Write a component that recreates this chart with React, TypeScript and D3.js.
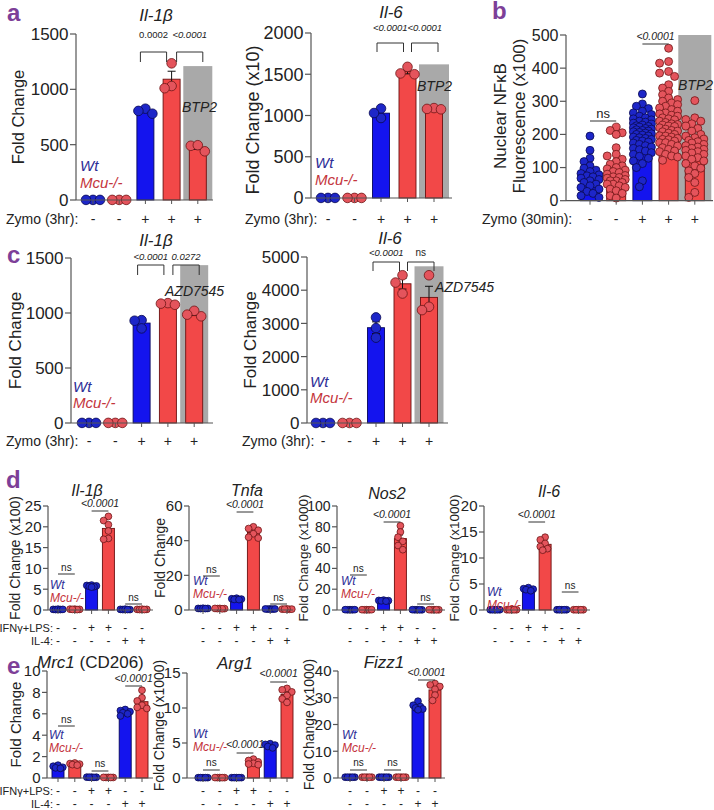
import React from 'react';
import * as d3 from 'd3';

const FONT = "'Liberation Sans', Arial, Helvetica, sans-serif";
const PURPLE = '#7d3f98';
const GRAY = '#a9a9a9';
const AXIS = '#555555';
const INK = '#222222';
const COLORS: Record<string, { bar: string; barStroke: string; dot: string; dotStroke: string; text: string }> = {
  wt: { bar: '#1414ee', barStroke: '#06065a', dot: '#1d26c8', dotStroke: '#0a0a50', text: '#2d2d96' },
  mcu: { bar: '#f24848', barStroke: '#6b1010', dot: '#e4545c', dotStroke: '#6e1616', text: '#c4343c' },
};

// ---------- categories / signs ----------
const zymoSigns = ['-', '-', '+', '+', '+'];
const ifnSigns = ['-', '-', '+', '+', '-', '-'];
const il4Signs = ['-', '-', '-', '-', '+', '+'];
const geno5 = ['wt', 'mcu', 'wt', 'mcu', 'mcu'];
const geno6 = ['wt', 'mcu', 'wt', 'mcu', 'wt', 'mcu'];

// ---------- panel a ----------
const aIl1b = [[1, 1, 1], [1, 1, 1], [825, 805, 780], [1235, 1030, 1010], [440, 490, 495]];
const aIl6 = [[1, 1, 1], [1, 1, 1], [1085, 970, 1030], [1590, 1510, 1500], [1090, 1080, 1075]];

// ---------- panel b ----------
const bWt = [195, 152, 128, 118, 105, 98, 92, 88, 82, 78, 75, 72, 68, 64, 60, 55, 50, 45, 40, 35, 28, 22, 15, 10];
const bMcu = [222, 212, 205, 200, 160, 140, 135, 125, 118, 110, 105, 100, 96, 92, 88, 85, 80, 76, 72, 70, 68, 64, 60, 60, 55, 50, 50, 45, 40, 35, 30, 22, 15, 8];
const bWtZymo = [322, 292, 285, 278, 270, 265, 260, 255, 250, 247, 244, 240, 237, 234, 231, 228, 226, 224, 222, 220, 218, 216, 214, 212, 210, 208, 206, 204, 202, 200, 198, 195, 192, 190, 188, 185, 182, 180, 177, 174, 170, 166, 162, 158, 154, 150, 145, 140, 134, 128, 120, 112, 100, 60, 42];
const bMcuZymo = [460, 420, 415, 390, 385, 375, 350, 340, 330, 320, 310, 305, 300, 295, 290, 285, 280, 275, 270, 265, 262, 258, 255, 250, 247, 244, 240, 236, 232, 230, 228, 225, 224, 220, 216, 212, 210, 208, 204, 200, 196, 195, 192, 188, 185, 184, 180, 175, 175, 170, 165, 160, 155, 150, 148, 140, 135, 132, 122];
const bBtp2 = [302, 250, 245, 240, 232, 225, 218, 210, 200, 195, 190, 186, 182, 178, 174, 170, 166, 162, 158, 155, 152, 148, 144, 140, 135, 130, 125, 120, 112, 105, 98, 90, 82, 70, 55, 25, 10];

// ---------- panel c ----------
const cIl1b = [[1, 1, 1], [1, 1, 1], [935, 930, 860], [1090, 1075, 1085], [970, 1020, 985]];
const cIl6 = [[1, 1, 1], [1, 1, 1], [3180, 2860, 2570], [4450, 4230, 3900], [4450, 3500, 3400]];

// ---------- panel d ----------
const dIl1b = [[0.15, 0.1, 0.2, 0.1, 0.15], [0.2, 0.15, 0.1, 0.2, 0.15], [6.0, 5.9, 5.8, 5.7, 5.6, 5.5], [22.5, 21.5, 20.5, 19, 17.2, 17], [0.1, 0.15, 0.1, 0.2, 0.1], [0.15, 0.1, 0.2, 0.15, 0.1]];
const dTnfa = [[0.9, 0.8, 1.0, 0.9, 0.8], [0.8, 0.9, 0.7, 0.8, 0.9], [6.8, 6.5, 6.3, 6.1, 6.0], [48, 47, 46, 44, 42, 41.5], [0.6, 0.5, 0.6, 0.5, 0.6], [0.5, 0.4, 0.5, 0.6, 0.5]];
const dNos2 = [[0.3, 0.2, 0.3, 0.2, 0.3], [0.3, 0.2, 0.3, 0.2, 0.3], [9.5, 9.2, 9.0, 8.8, 8.5], [81, 75, 70, 66, 62, 58], [0.2, 0.3, 0.2, 0.3, 0.2], [0.2, 0.3, 0.2, 0.3, 0.2]];
const dIl6 = [[0.05, 0.05, 0.05, 0.05, 0.05], [0.05, 0.05, 0.05, 0.05, 0.05], [4.3, 4.1, 4.0, 3.9, 3.7], [14, 13.5, 12.8, 12.2, 11.8, 11.5], [0.05, 0.05, 0.05, 0.05, 0.05], [0.05, 0.05, 0.05, 0.05, 0.05]];

// ---------- panel e ----------
const eMrc1 = [[1.2, 1.1, 1.0, 0.95, 0.9], [1.4, 1.35, 1.3, 1.25, 1.2], [0.08, 0.07, 0.08, 0.06, 0.07], [0.05, 0.06, 0.05, 0.06, 0.05], [6.4, 6.3, 6.2, 6.1, 6.0, 5.8], [8.2, 7.5, 7.2, 6.8, 6.6, 6.5]];
const eArg1 = [[0.05, 0.05, 0.05, 0.05, 0.05], [0.05, 0.06, 0.05, 0.06, 0.05], [0.05, 0.05, 0.05, 0.05, 0.05], [2.7, 2.5, 2.3, 2.1, 2.0, 1.9], [4.9, 4.8, 4.7, 4.5, 4.3], [12.8, 12.6, 12.3, 11.8, 11.3, 10.8]];
const eFizz1 = [[0.3, 0.3, 0.3, 0.3, 0.3], [0.3, 0.3, 0.3, 0.3, 0.3], [0.3, 0.3, 0.3, 0.3, 0.3], [0.3, 0.3, 0.3, 0.3, 0.3], [28.7, 27.2, 26.7, 26.2, 25.8, 25.5], [35.3, 34.8, 34.2, 33.2, 31, 29]];

// ---------- types ----------
type Seg = { t: string; it: boolean };
type Mark = { i: number; j: number; text: string; italic?: boolean; kind: 'bracket' | 'line'; y: number; ty: number; dx?: number; leg?: number; size: number };
type Row = { label?: string; labelX?: number; labelAnchor?: 'start' | 'end'; y: number; signs: string[]; size: number; labelSize?: number };
type PanelCfg = {
  axisX: number; axisEnd: number; y0: number; yTop: number; max: number; ticks: number[]; tickSize: number; tickLen: number;
  firstX: number; step: number; barW: number; r: number; swStep: number; swMax: number; capW: number;
  groups: number[][]; geno: string[];
  gray?: { index: number; value: number; width: number; label: string; lx: number; ly: number; size: number };
  title?: Seg[]; titleX?: number; titleY?: number; titleSize?: number; titleAnchor?: 'start' | 'middle';
  ylabel: string[]; ylabelX: number[]; ylabelY?: number; ylabelSize: number;
  legend?: { x: number; y1: number; y2: number; size: number };
  marks: Mark[]; rows: Row[];
};

function swarm(vals: number[], y: (v: number) => number, r: number, step: number, maxOff: number): number[] {
  const idx = vals.map((_, i) => i).sort((a, b) => vals[b] - vals[a]);
  const placed: [number, number][] = [];
  const out: number[] = new Array(vals.length).fill(0);
  const minD = 2 * r * 0.8;
  const cands = [0];
  for (let k = 1; k * step <= maxOff + 1e-6; k++) cands.push(-k * step, k * step);
  for (const i of idx) {
    const py = y(vals[i]);
    let best = 0;
    let bestD = -1;
    for (const c of cands) {
      let md = Infinity;
      for (const [px, qy] of placed) md = Math.min(md, Math.hypot(px - c, qy - py));
      if (md >= minD) { best = c; bestD = md; break; }
      if (md > bestD) { bestD = md; best = c; }
    }
    placed.push([best, py]);
    out[i] = best;
  }
  return out;
}

function BarPanel({ cfg }: { cfg: PanelCfg }) {
  const y = d3.scaleLinear().domain([0, cfg.max]).range([cfg.y0, cfg.yTop]);
  const x = d3.scaleLinear().domain([0, 1]).range([cfg.firstX, cfg.firstX + cfg.step]);
  const stats = cfg.groups.map((g) => {
    const m = d3.mean(g) as number;
    const sd = g.length > 1 ? (d3.deviation(g) as number) : 0;
    return { m, sem: sd / Math.sqrt(g.length) };
  });
  const ylY = cfg.ylabelY ?? (cfg.y0 + cfg.yTop) / 2;
  return (
    <g>
      {cfg.gray && (
        <rect
          x={x(cfg.gray.index) - cfg.gray.width / 2}
          y={y(cfg.gray.value)}
          width={cfg.gray.width}
          height={cfg.y0 - y(cfg.gray.value)}
          fill={GRAY}
        />
      )}
      {stats.map((s, i) => {
        const c = COLORS[cfg.geno[i]];
        return (
          <rect key={'b' + i} x={x(i) - cfg.barW / 2} y={y(s.m)} width={cfg.barW} height={cfg.y0 - y(s.m)}
            fill={c.bar} stroke={c.barStroke} strokeWidth={0.9} />
        );
      })}
      {stats.map((s, i) => {
        const cx = x(i);
        const hi = y(s.m + s.sem);
        const lo = y(Math.max(0, s.m - s.sem));
        return (
          <g key={'e' + i} stroke="#111" strokeWidth={1}>
            <line x1={cx} x2={cx} y1={hi} y2={lo} />
            <line x1={cx - cfg.capW / 2} x2={cx + cfg.capW / 2} y1={hi} y2={hi} />
            <line x1={cx - cfg.capW / 2} x2={cx + cfg.capW / 2} y1={lo} y2={lo} />
          </g>
        );
      })}
      {cfg.groups.map((g, i) => {
        const c = COLORS[cfg.geno[i]];
        const offs = swarm(g, y, cfg.r, cfg.swStep, cfg.swMax);
        return g.map((v, k) => (
          <circle key={'d' + i + '-' + k} cx={x(i) + offs[k]} cy={y(v)} r={cfg.r} fill={c.dot} stroke={c.dotStroke} strokeWidth={0.8} />
        ));
      })}
      {/* axes */}
      <line x1={cfg.axisX} x2={cfg.axisX} y1={cfg.yTop} y2={cfg.y0} stroke={AXIS} strokeWidth={1.2} />
      <line x1={cfg.axisX} x2={cfg.axisEnd} y1={cfg.y0} y2={cfg.y0} stroke={AXIS} strokeWidth={1.2} />
      {cfg.ticks.map((t) => (
        <g key={'t' + t}>
          <line x1={cfg.axisX - cfg.tickLen} x2={cfg.axisX} y1={y(t)} y2={y(t)} stroke={AXIS} strokeWidth={1.2} />
          <text x={cfg.axisX - cfg.tickLen - 1.5} y={y(t)} dy="0.36em" textAnchor="end" fontSize={cfg.tickSize} fill={INK}>{t}</text>
        </g>
      ))}
      {cfg.groups.map((_, i) => (
        <line key={'xt' + i} x1={x(i)} x2={x(i)} y1={cfg.y0} y2={cfg.y0 + 4} stroke={AXIS} strokeWidth={1} />
      ))}
      {/* y label */}
      {cfg.ylabel.map((l, k) => (
        <text key={'yl' + k} transform={`translate(${cfg.ylabelX[k]},${ylY}) rotate(-90)`} textAnchor="middle" dy="0.36em"
          fontSize={cfg.ylabelSize} fill={INK}>{l}</text>
      ))}
      {/* title */}
      {cfg.title && (
        <text x={cfg.titleX} y={cfg.titleY} textAnchor={cfg.titleAnchor ?? 'middle'} fontSize={cfg.titleSize} fill={INK}>
          {cfg.title.map((s, k) => (
            <tspan key={k} fontStyle={s.it ? 'italic' : 'normal'}>{s.t}</tspan>
          ))}
        </text>
      )}
      {/* gray label */}
      {cfg.gray && (
        <text x={cfg.gray.lx} y={cfg.gray.ly} fontSize={cfg.gray.size} fontStyle="italic" fill={INK}>{cfg.gray.label}</text>
      )}
      {/* legend */}
      {cfg.legend && (
        <g fontStyle="italic" fontSize={cfg.legend.size}>
          <text x={cfg.legend.x} y={cfg.legend.y1} fill={COLORS.wt.text}>Wt</text>
          <text x={cfg.legend.x} y={cfg.legend.y2} fill={COLORS.mcu.text}>Mcu-/-</text>
        </g>
      )}
      {/* significance marks */}
      {cfg.marks.map((mk, k) => {
        const dx = mk.dx ?? 0;
        const x1 = x(mk.i) + dx;
        const x2 = x(mk.j) + dx;
        const leg = mk.leg ?? 9;
        return (
          <g key={'m' + k}>
            {mk.kind === 'bracket' ? (
              <path d={`M${x1},${mk.y + leg}V${mk.y}H${x2}V${mk.y + leg}`} fill="none" stroke="#333" strokeWidth={1} />
            ) : (
              <line x1={x1} x2={x2} y1={mk.y} y2={mk.y} stroke="#333" strokeWidth={1} />
            )}
            <text x={(x1 + x2) / 2} y={mk.ty} textAnchor="middle" fontSize={mk.size} fontStyle={mk.italic ? 'italic' : 'normal'} fill={INK}>{mk.text}</text>
          </g>
        );
      })}
      {/* condition rows */}
      {cfg.rows.map((row, k) => (
        <g key={'r' + k}>
          {row.label && (
            <text x={row.labelX} y={row.y} dy="0.36em" textAnchor={row.labelAnchor ?? 'start'} fontSize={row.labelSize ?? row.size} fill={INK}>{row.label}</text>
          )}
          {row.signs.map((s, i) => (
            <text key={i} x={x(i)} y={row.y} dy="0.36em" textAnchor="middle" fontSize={row.size} fill={INK}>{s}</text>
          ))}
        </g>
      ))}
    </g>
  );
}

// ---------- layouts ----------
const big = { tickLen: 6, barW: 17, r: 4.8, swStep: 7, swMax: 7, capW: 8 };
const small = { tickLen: 5, barW: 12, r: 3.4, swStep: 2.4, swMax: 4.8, capW: 5, tickSize: 15 };
const zymoRow = (x: number, yy: number, label = 'Zymo (3hr):'): Row => ({ label, labelX: x, y: yy, signs: zymoSigns, size: 14, labelSize: 14 });
const dRows = (withLabel: boolean, y1: number, y2: number): Row[] => [
  { label: withLabel ? 'IFNγ+LPS:' : undefined, labelX: 53, labelAnchor: 'end', y: y1, signs: ifnSigns, size: 12, labelSize: 11 },
  { label: withLabel ? 'IL-4:' : undefined, labelX: 53, labelAnchor: 'end', y: y2, signs: il4Signs, size: 12, labelSize: 11 },
];
const P = (t: string): Seg[] => [{ t, it: true }];

const panels: PanelCfg[] = [
  {
    ...big, axisX: 76, axisEnd: 213, y0: 200, yTop: 34, max: 1500, ticks: [0, 500, 1000, 1500], tickSize: 17,
    firstX: 93, step: 26.2, groups: aIl1b, geno: geno5,
    gray: { index: 4, value: 1210, width: 29, label: 'BTP2', lx: 182, ly: 112, size: 14 },
    title: P('Il-1β'), titleX: 156, titleY: 21, titleSize: 17,
    ylabel: ['Fold Change'], ylabelX: [18], ylabelSize: 16.5,
    legend: { x: 80, y1: 171, y2: 188, size: 15 },
    marks: [
      { i: 2, j: 3, text: '0.0002', kind: 'bracket', y: 52, leg: 10, ty: 38, dx: -5, size: 9.5 },
      { i: 3, j: 4, text: '<0.0001', italic: true, kind: 'bracket', y: 52, leg: 10, ty: 38, dx: 5, size: 9.5 },
    ],
    rows: [zymoRow(6, 219)],
  },
  {
    ...big, axisX: 311, axisEnd: 452, y0: 198, yTop: 33, max: 2000, ticks: [0, 500, 1000, 1500, 2000], tickSize: 18,
    firstX: 328, step: 26.5, groups: aIl6, geno: geno5,
    gray: { index: 4, value: 1620, width: 30, label: 'BTP2', lx: 417, ly: 91, size: 14 },
    title: P('Il-6'), titleX: 391, titleY: 18, titleSize: 17,
    ylabel: ['Fold Change (x10)'], ylabelX: [253], ylabelY: 120, ylabelSize: 18,
    legend: { x: 315, y1: 168, y2: 185, size: 15 },
    marks: [
      { i: 2, j: 3, text: '<0.0001', italic: true, kind: 'bracket', y: 43, leg: 9, ty: 31, dx: -4, size: 9.5 },
      { i: 3, j: 4, text: '<0.0001', italic: true, kind: 'bracket', y: 43, leg: 9, ty: 31, dx: 4, size: 9.5 },
    ],
    rows: [zymoRow(245, 219)],
  },
  {
    ...big, r: 4.0, swStep: 3, swMax: 10, barW: 19, axisX: 566, axisEnd: 713, y0: 200.7, yTop: 35, max: 500,
    ticks: [0, 100, 200, 300, 400, 500], tickSize: 16,
    firstX: 590, step: 26.2, groups: [bWt, bMcu, bWtZymo, bMcuZymo, bBtp2], geno: geno5,
    gray: { index: 4, value: 500, width: 33, label: 'BTP2', lx: 678, ly: 90, size: 14 },
    ylabel: ['Nuclear NFκB', 'Fluorescence (x100)'], ylabelX: [500, 519], ylabelY: 116, ylabelSize: 17,
    marks: [
      { i: 0, j: 1, text: 'ns', kind: 'line', y: 121, ty: 118, size: 13 },
      { i: 2, j: 3, text: '<0.0001', italic: true, kind: 'line', y: 44, ty: 40, size: 10.5 },
    ],
    rows: [zymoRow(482, 219, 'Zymo (30min):')],
  },
  {
    ...big, axisX: 71, axisEnd: 213, y0: 423, yTop: 258, max: 1500, ticks: [0, 500, 1000, 1500], tickSize: 17,
    firstX: 89, step: 26.3, groups: cIl1b, geno: geno5,
    gray: { index: 4, value: 1435, width: 28, label: 'AZD7545', lx: 165, ly: 296, size: 14 },
    title: P('Il-1β'), titleX: 156, titleY: 246, titleSize: 17,
    ylabel: ['Fold Change'], ylabelX: [15], ylabelSize: 17,
    legend: { x: 73, y1: 392, y2: 408, size: 15 },
    marks: [
      { i: 2, j: 3, text: '<0.0001', italic: true, kind: 'bracket', y: 265, leg: 10, ty: 260, dx: -4, size: 9.5 },
      { i: 3, j: 4, text: '0.0272', italic: true, kind: 'bracket', y: 265, leg: 10, ty: 260, dx: 5, size: 9.5 },
    ],
    rows: [zymoRow(6, 441)],
  },
  {
    ...big, axisX: 307, axisEnd: 448, y0: 423, yTop: 257, max: 5000, ticks: [0, 1000, 2000, 3000, 4000, 5000], tickSize: 17,
    firstX: 323, step: 26.5, groups: cIl6, geno: geno5,
    gray: { index: 4, value: 4720, width: 29, label: 'AZD7545', lx: 435, ly: 292, size: 14 },
    title: P('Il-6'), titleX: 390, titleY: 244, titleSize: 17,
    ylabel: ['Fold Change'], ylabelX: [250], ylabelSize: 17,
    legend: { x: 310, y1: 387, y2: 403, size: 15 },
    marks: [
      { i: 2, j: 3, text: '<0.0001', italic: true, kind: 'bracket', y: 262, leg: 9, ty: 256, dx: -3, size: 9.5 },
      { i: 3, j: 4, text: 'ns', kind: 'bracket', y: 262, leg: 9, ty: 256, dx: 5, size: 10 },
    ],
    rows: [zymoRow(242, 441)],
  },
  // ----- d -----
  {
    ...small, axisX: 48, axisEnd: 153, y0: 610, yTop: 506, max: 25, ticks: [0, 5, 10, 15, 20, 25],
    firstX: 58, step: 16.8, groups: dIl1b, geno: geno6,
    title: P('Il-1β'), titleX: 87, titleY: 496, titleSize: 16,
    ylabel: ['Fold Change (x100)'], ylabelX: [15], ylabelSize: 14,
    legend: { x: 50, y1: 589, y2: 602, size: 12 },
    marks: [
      { i: 0, j: 1, text: 'ns', kind: 'line', y: 574, ty: 571, size: 10 },
      { i: 2, j: 3, text: '<0.0001', italic: true, kind: 'line', y: 511, ty: 507, size: 10.5 },
      { i: 4, j: 5, text: 'ns', kind: 'line', y: 604, ty: 601, size: 10 },
    ],
    rows: dRows(true, 628, 641),
  },
  {
    ...small, axisX: 189, axisEnd: 293, y0: 610, yTop: 506, max: 60, ticks: [0, 20, 40, 60],
    firstX: 203, step: 16.8, groups: dTnfa, geno: geno6,
    title: P('Tnfa'), titleX: 247, titleY: 496, titleSize: 16,
    ylabel: ['Fold Change'], ylabelX: [160], ylabelSize: 14,
    legend: { x: 193, y1: 585, y2: 598, size: 12 },
    marks: [
      { i: 0, j: 1, text: 'ns', kind: 'line', y: 576, ty: 573, size: 10 },
      { i: 2, j: 3, text: '<0.0001', italic: true, kind: 'line', y: 512, ty: 508, size: 10.5 },
      { i: 4, j: 5, text: 'ns', kind: 'line', y: 604, ty: 601, size: 10 },
    ],
    rows: dRows(false, 628, 641),
  },
  {
    ...small, tickSize: 14, axisX: 337, axisEnd: 445, y0: 610, yTop: 506, max: 100, ticks: [0, 20, 40, 60, 80, 100],
    firstX: 350, step: 16.8, groups: dNos2, geno: geno6,
    title: P('Nos2'), titleX: 387, titleY: 499, titleSize: 16,
    ylabel: ['Fold Change (x1000)'], ylabelX: [303], ylabelSize: 13.5,
    legend: { x: 341, y1: 585, y2: 598, size: 12 },
    marks: [
      { i: 0, j: 1, text: 'ns', kind: 'line', y: 575, ty: 572, size: 10 },
      { i: 2, j: 3, text: '<0.0001', italic: true, kind: 'line', y: 522, ty: 518, size: 10.5 },
      { i: 4, j: 5, text: 'ns', kind: 'line', y: 604, ty: 601, size: 10 },
    ],
    rows: dRows(false, 628, 641),
  },
  {
    ...small, axisX: 484, axisEnd: 590, y0: 610, yTop: 506, max: 20, ticks: [0, 5, 10, 15, 20],
    firstX: 495, step: 16.7, groups: dIl6, geno: geno6,
    title: P('Il-6'), titleX: 549, titleY: 497, titleSize: 16,
    ylabel: ['Fold Change (x1000)'], ylabelX: [454], ylabelSize: 13.5,
    legend: { x: 487, y1: 596, y2: 609, size: 12 },
    marks: [
      { i: 2, j: 3, text: '<0.0001', italic: true, kind: 'line', y: 522, ty: 518, size: 10.5 },
      { i: 4, j: 5, text: 'ns', kind: 'line', y: 592, ty: 589, size: 10 },
    ],
    rows: dRows(false, 628, 641),
  },
  // ----- e -----
  {
    ...small, axisX: 47, axisEnd: 153, y0: 778, yTop: 671, max: 10, ticks: [0, 2, 4, 6, 8, 10],
    firstX: 58, step: 16.8, groups: eMrc1, geno: geno6,
    title: [{ t: 'Mrc1', it: true }, { t: ' (CD206)', it: false }], titleX: 37, titleY: 668, titleSize: 17, titleAnchor: 'start',
    ylabel: ['Fold Change'], ylabelX: [16], ylabelSize: 15,
    legend: { x: 49, y1: 739, y2: 752, size: 12 },
    marks: [
      { i: 0, j: 1, text: 'ns', kind: 'line', y: 726, ty: 723, size: 10 },
      { i: 2, j: 3, text: 'ns', kind: 'line', y: 771, ty: 767, size: 10 },
      { i: 4, j: 5, text: '<0.0001', italic: true, kind: 'line', y: 686, ty: 682, size: 10.5 },
    ],
    rows: dRows(true, 791, 804),
  },
  {
    ...small, axisX: 187, axisEnd: 293, y0: 778, yTop: 673, max: 15, ticks: [0, 5, 10, 15],
    firstX: 203, step: 16.8, groups: eArg1, geno: geno6,
    title: P('Arg1'), titleX: 235, titleY: 669, titleSize: 17,
    ylabel: ['Fold Change (x1000)'], ylabelX: [159], ylabelSize: 14,
    legend: { x: 193, y1: 738, y2: 751, size: 12 },
    marks: [
      { i: 0, j: 1, text: 'ns', kind: 'line', y: 770, ty: 766, size: 10 },
      { i: 2, j: 3, text: '<0.0001', italic: true, kind: 'line', y: 753, ty: 748, size: 10.5 },
      { i: 4, j: 5, text: '<0.0001', italic: true, kind: 'line', y: 682, ty: 677, size: 10.5 },
    ],
    rows: dRows(false, 791, 804),
  },
  {
    ...small, axisX: 338, axisEnd: 445, y0: 778, yTop: 671, max: 40, ticks: [0, 10, 20, 30, 40],
    firstX: 350, step: 17, groups: eFizz1, geno: geno6,
    title: P('Fizz1'), titleX: 384, titleY: 668, titleSize: 17,
    ylabel: ['Fold Change (x1000)'], ylabelX: [309], ylabelSize: 14,
    legend: { x: 342, y1: 739, y2: 752, size: 12 },
    marks: [
      { i: 0, j: 1, text: 'ns', kind: 'line', y: 770, ty: 766, size: 10 },
      { i: 2, j: 3, text: 'ns', kind: 'line', y: 770, ty: 766, size: 10 },
      { i: 4, j: 5, text: '<0.0001', italic: true, kind: 'line', y: 680, ty: 676, size: 10.5 },
    ],
    rows: dRows(false, 791, 804),
  },
];

const letters = [
  { t: 'a', x: 7, y: 21 },
  { t: 'b', x: 492, y: 19 },
  { t: 'c', x: 7, y: 263 },
  { t: 'd', x: 6, y: 488 },
  { t: 'e', x: 7, y: 674 },
];

export default function App() {
  return (
    <svg width={714} height={810} style={{ position: 'absolute', left: 0, top: 0, background: '#fff' }}
      fontFamily={FONT}>
      <rect x={0} y={0} width={714} height={810} fill="#fff" />
      {panels.map((p, i) => (
        <BarPanel key={i} cfg={p} />
      ))}
      {letters.map((l) => (
        <text key={l.t} x={l.x} y={l.y} fontSize={24} fontWeight="bold" fill={PURPLE}>{l.t}</text>
      ))}
    </svg>
  );
}
